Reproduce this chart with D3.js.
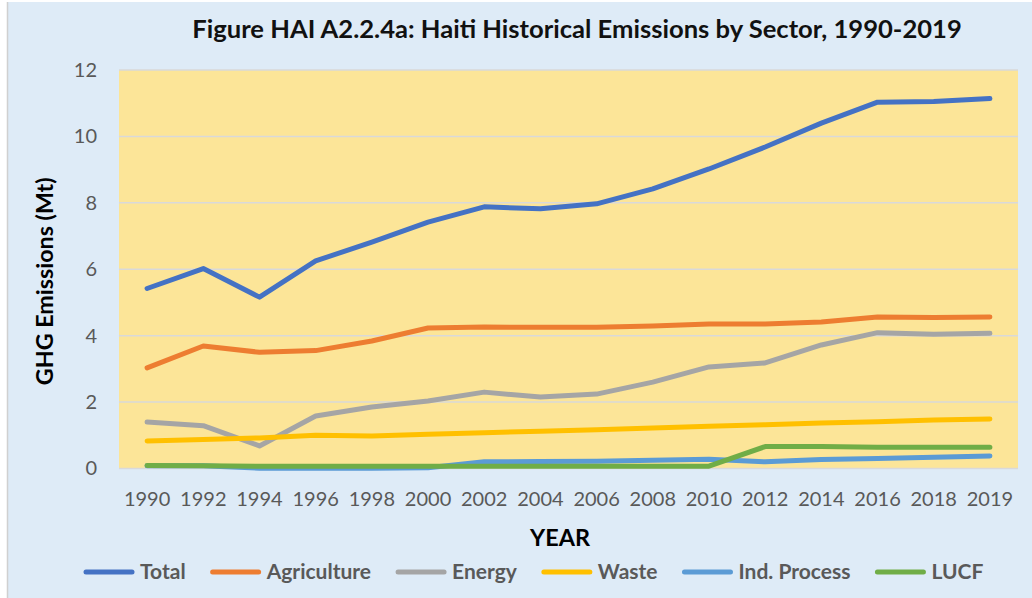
<!DOCTYPE html>
<html><head><meta charset="utf-8">
<script src="https://cdn.jsdelivr.net/npm/d3@7"></script>
<style>body{margin:0;background:#fff;} svg{display:block;}</style>
</head><body>
<svg id="chart" width="1032" height="598"></svg>
<script>
const years = ["1990","1992","1994","1996","1998","2000","2002","2004","2006","2008","2010","2012","2014","2016","2018","2019"];
const seriesNames = ["Total","Agriculture","Energy","Waste","Ind. Process","LUCF"];
const seriesColors = ["#4472C4","#ED7D31","#A5A5A5","#FFC000","#5B9BD5","#70AD47"];
const total       = [5.42,6.02,5.16,6.25,6.82,7.42,7.88,7.82,7.97,8.42,9.02,9.68,10.40,11.03,11.05,11.14];
const agriculture = [3.03,3.69,3.50,3.55,3.84,4.23,4.26,4.25,4.25,4.29,4.35,4.35,4.41,4.56,4.55,4.56];
const energy      = [1.40,1.29,0.68,1.58,1.85,2.03,2.30,2.15,2.24,2.60,3.06,3.18,3.72,4.09,4.04,4.07];
const waste       = [0.83,0.87,0.92,1.00,0.98,1.03,1.08,1.12,1.17,1.22,1.27,1.32,1.37,1.41,1.46,1.49];
const indProcess  = [0.08,0.08,0.01,0.01,0.01,0.02,0.20,0.21,0.22,0.25,0.28,0.20,0.27,0.30,0.34,0.38];
const lucf        = [0.09,0.08,0.07,0.07,0.07,0.07,0.07,0.07,0.07,0.07,0.07,0.66,0.66,0.64,0.64,0.64];
const yTicks = [0,2,4,6,8,10,12];
const titleText = "Figure HAI A2.2.4a: Haiti Historical Emissions by Sector, 1990-2019";
const xTitle = "YEAR";
const yTitle = "GHG Emissions (Mt)";

const seriesValues = [total, agriculture, energy, waste, indProcess, lucf];
const font = "Lato, 'Open Sans', sans-serif";
const svg = d3.select("#chart");

// background
svg.append("rect").attr("x",8).attr("y",2).attr("width",1024).attr("height",596).attr("fill","#DEEBF7");
svg.append("line").attr("x1",7.5).attr("x2",7.5).attr("y1",2).attr("y2",598).attr("stroke","#D0D0D0").attr("stroke-width",1.5);

const L = 119, R = 1018, T = 70, B = 468.5;
const x = d3.scaleBand().domain(years).range([L,R]).padding(0);
const y = d3.scaleLinear().domain([0,12]).range([B,T]);

svg.append("rect").attr("x",L).attr("y",T).attr("width",R-L).attr("height",B-T).attr("fill","#FCE598");

// gridlines
svg.append("g").selectAll("line").data(yTicks).join("line")
  .attr("x1",L).attr("x2",R).attr("y1",d=>y(d)).attr("y2",d=>y(d))
  .attr("stroke","#D9D9D9").attr("stroke-width",1.5);

// y axis labels
const yAxis = d3.axisLeft(y).tickValues(yTicks).tickSize(0).tickPadding(0).tickFormat(d3.format("d"));
const gy = svg.append("g").attr("transform",`translate(${L-22},0)`).call(yAxis);
gy.select(".domain").remove();
gy.selectAll("text").attr("font-family",font).attr("font-size",20).attr("fill","#595959");

// x axis labels
const xAxis = d3.axisBottom(x).tickSize(0).tickPadding(0);
const gx = svg.append("g").attr("transform",`translate(0,${B+23})`).call(xAxis);
gx.select(".domain").remove();
gx.selectAll("text").attr("font-family",font).attr("font-size",20).attr("fill","#595959");

// lines
const line = d3.line().x((d,i)=>x(years[i])+x.bandwidth()/2).y(d=>y(d));
seriesValues.forEach((vals,k)=>{
  svg.append("path").datum(vals).attr("d",line).attr("fill","none")
    .attr("stroke",seriesColors[k]).attr("stroke-width",5)
    .attr("stroke-linecap","round").attr("stroke-linejoin","round");
});

// title
function fitText(sel, target){
  const w = sel.node().getComputedTextLength();
  const fs = parseFloat(sel.attr("font-size"));
  sel.attr("font-size", fs*target/w);
}
const title = svg.append("text").attr("x",577).attr("y",38).attr("text-anchor","middle")
  .attr("font-family",font).attr("font-weight","bold").attr("font-size",22).attr("fill","#111")
  .text(titleText);
fitText(title, 770);

const xt = svg.append("text").attr("x",560).attr("y",546).attr("text-anchor","middle")
  .attr("font-family",font).attr("font-weight","bold").attr("font-size",24).attr("fill","#000")
  .text(xTitle);
fitText(xt, 60);

const yt = svg.append("text").attr("transform",`translate(53,${(T+B)/2+12}) rotate(-90)`).attr("text-anchor","middle")
  .attr("font-family",font).attr("font-weight","bold").attr("font-size",24).attr("fill","#000")
  .text(yTitle);
fitText(yt, 208);

// legend
const lg = svg.append("g");
let lx = 84;
seriesNames.forEach((name,k)=>{
  lg.append("line").attr("x1",lx+2).attr("x2",lx+48).attr("y1",572).attr("y2",572)
    .attr("stroke",seriesColors[k]).attr("stroke-width",5).attr("stroke-linecap","round");
  const t = lg.append("text").attr("x",lx+56).attr("y",579).attr("font-family",font)
    .attr("font-weight","bold").attr("font-size",21).attr("fill","#595959").text(name);
  lx += 56 + t.node().getComputedTextLength() + 25;
});
</script>
</body></html>
